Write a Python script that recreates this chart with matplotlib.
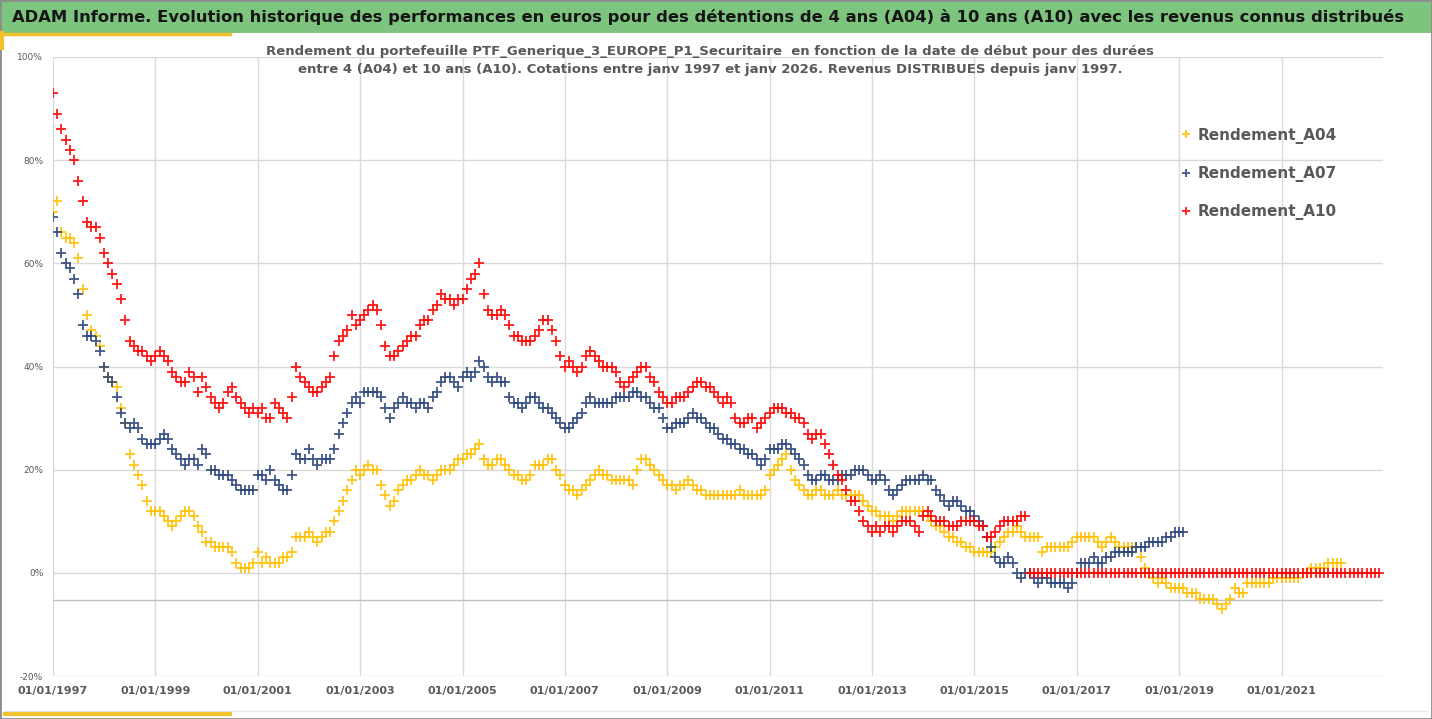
import matplotlib
matplotlib.use("Agg")
import matplotlib.pyplot as plt
import matplotlib.dates as mdates
from matplotlib.patches import Rectangle
from matplotlib.lines import Line2D
import pandas as pd

# --- Données (rendement en %, un point par mois) ---
a04 = [
    70, 72, 66, 65, 65, 64, 61, 55, 50, 47, 46, 44,   # 1997
    40, 38, 37, 36, 32, 29, 23, 21, 19, 17, 14, 12,   # 1998
    12, 12, 11, 10, 9, 10, 11, 12, 12, 11, 9, 8,      # 1999
    6, 6, 5, 5, 5, 5, 4, 2, 1, 1, 1, 2,               # 2000
    4, 2, 3, 2, 2, 2, 3, 3, 4, 7, 7, 7,               # 2001
    8, 7, 6, 7, 8, 8, 10, 12, 14, 16, 18, 20,         # 2002
    19, 20, 21, 20, 20, 17, 15, 13, 14, 16, 17, 18,   # 2003
    18, 19, 20, 19, 19, 18, 19, 20, 20, 20, 21, 22,   # 2004
    22, 23, 23, 24, 25, 22, 21, 21, 22, 22, 21, 20,   # 2005
    19, 19, 18, 18, 19, 21, 21, 21, 22, 22, 20, 19,   # 2006
    17, 16, 16, 15, 16, 17, 18, 19, 20, 19, 19, 18,   # 2007
    18, 18, 18, 18, 17, 20, 22, 22, 21, 20, 19, 18,   # 2008
    17, 17, 16, 17, 17, 18, 17, 16, 16, 15, 15, 15,   # 2009
    15, 15, 15, 15, 15, 16, 15, 15, 15, 15, 15, 16,   # 2010
    19, 20, 21, 22, 23, 20, 18, 17, 16, 15, 15, 16,   # 2011
    16, 15, 15, 15, 16, 15, 15, 15, 15, 15, 14, 13,   # 2012
    12, 12, 11, 11, 11, 10, 11, 12, 12, 12, 12, 12,   # 2013
    12, 11, 10, 9, 9, 8, 7, 7, 6, 6, 5, 5,            # 2014
    4, 4, 4, 4, 4, 5, 6, 7, 8, 8, 9, 8,               # 2015
    7, 7, 7, 7, 4, 5, 5, 5, 5, 5, 5, 6,               # 2016
    7, 7, 7, 7, 7, 6, 5, 6, 7, 6, 5, 5,               # 2017
    5, 5, 5, 3, 1, 0, -1, -2, -1, -2, -3, -3,         # 2018
    -3, -3, -4, -4, -4, -5, -5, -5, -5, -6, -7, -6,   # 2019
    -5, -3, -4, -4, -2, -2, -2, -2, -2, -2, -1, -1,   # 2020
    -1, -1, -1, -1, -1, 0, 0, 1, 1, 1, 1, 2,          # 2021
    2, 2, 2,                                          # 2022
]

a07 = [
    69, 66, 62, 60, 59, 57, 54, 48, 46, 46, 45, 43,   # 1997
    40, 38, 37, 34, 31, 29, 28, 29, 28, 26, 25, 25,   # 1998
    25, 26, 27, 26, 24, 23, 22, 21, 22, 22, 21, 24,   # 1999
    23, 20, 20, 19, 19, 19, 18, 17, 16, 16, 16, 16,   # 2000
    19, 19, 18, 20, 18, 17, 16, 16, 19, 23, 22, 22,   # 2001
    24, 22, 21, 22, 22, 22, 24, 27, 29, 31, 33, 34,   # 2002
    33, 35, 35, 35, 35, 34, 32, 30, 32, 33, 34, 33,   # 2003
    33, 32, 33, 33, 32, 34, 35, 37, 38, 38, 37, 36,   # 2004
    38, 39, 38, 39, 41, 40, 38, 37, 38, 37, 37, 34,   # 2005
    33, 33, 32, 33, 34, 34, 33, 32, 32, 31, 30, 29,   # 2006
    28, 28, 29, 30, 31, 33, 34, 33, 33, 33, 33, 33,   # 2007
    34, 34, 34, 34, 35, 35, 34, 34, 33, 32, 32, 30,   # 2008
    28, 28, 29, 29, 29, 30, 31, 30, 30, 29, 28, 28,   # 2009
    27, 26, 26, 25, 25, 24, 24, 23, 23, 22, 21, 22,   # 2010
    24, 24, 24, 25, 25, 24, 23, 22, 21, 19, 18, 18,   # 2011
    19, 19, 18, 18, 18, 19, 19, 19, 20, 20, 20, 19,   # 2012
    18, 18, 19, 18, 16, 15, 16, 17, 18, 18, 18, 18,   # 2013
    19, 18, 18, 16, 15, 14, 13, 14, 14, 13, 12, 12,   # 2014
    11, 10, 9, 7, 5, 3, 2, 2, 3, 2, 0, -1,            # 2015
    0, 0, -1, -2, -1, -1, -2, -2, -2, -2, -3, -2,     # 2016
    0, 2, 2, 2, 3, 2, 2, 3, 3, 4, 4, 4,               # 2017
    4, 4, 5, 5, 5, 6, 6, 6, 6, 7, 7, 8,               # 2018
    8, 8,                                             # 2019
]

a10 = [
    93, 89, 86, 84, 82, 80, 76, 72, 68, 67, 67, 65,   # 1997
    62, 60, 58, 56, 53, 49, 45, 44, 43, 43, 42, 41,   # 1998
    42, 43, 42, 41, 39, 38, 37, 37, 39, 38, 35, 38,   # 1999
    36, 34, 33, 32, 33, 35, 36, 34, 33, 32, 31, 32,   # 2000
    31, 32, 30, 30, 33, 32, 31, 30, 34, 40, 38, 37,   # 2001
    36, 35, 35, 36, 37, 38, 42, 45, 46, 47, 50, 48,   # 2002
    49, 50, 51, 52, 51, 48, 44, 42, 42, 43, 44, 45,   # 2003
    46, 46, 48, 49, 49, 51, 52, 54, 53, 53, 52, 53,   # 2004
    53, 55, 57, 58, 60, 54, 51, 50, 50, 51, 50, 48,   # 2005
    46, 46, 45, 45, 45, 46, 47, 49, 49, 47, 45, 42,   # 2006
    40, 41, 40, 39, 40, 42, 43, 42, 41, 40, 40, 40,   # 2007
    39, 37, 36, 37, 38, 39, 40, 40, 38, 37, 35, 34,   # 2008
    33, 33, 34, 34, 34, 35, 36, 37, 37, 36, 36, 35,   # 2009
    34, 33, 34, 33, 30, 29, 29, 30, 30, 28, 29, 30,   # 2010
    31, 32, 32, 32, 31, 31, 30, 30, 29, 27, 26, 27,   # 2011
    27, 25, 23, 21, 19, 18, 16, 14, 14, 12, 10, 9,    # 2012
    8, 9, 8, 9, 9, 8, 9, 10, 10, 10, 9, 8,            # 2013
    11, 12, 11, 10, 10, 10, 9, 9, 9, 10, 10, 10,      # 2014
    10, 9, 9, 7, 7, 8, 9, 10, 10, 10, 10, 11,         # 2015
    11,                                               # 2016-01
    # fin de l'historique 10 ans : valeurs à 0 jusqu'à fin 2022
    0, 0, 0, 0, 0, 0, 0, 0, 0, 0, 0,                  # 2016
    0, 0, 0, 0, 0, 0, 0, 0, 0, 0, 0, 0,               # 2017
    0, 0, 0, 0, 0, 0, 0, 0, 0, 0, 0, 0,               # 2018
    0, 0, 0, 0, 0, 0, 0, 0, 0, 0, 0, 0,               # 2019
    0, 0, 0, 0, 0, 0, 0, 0, 0, 0, 0, 0,               # 2020
    0, 0, 0, 0, 0, 0, 0, 0, 0, 0, 0, 0,               # 2021
    0, 0, 0, 0, 0, 0, 0, 0, 0, 0, 0, 0,               # 2022
]

series = [
    ("Rendement_A04", a04, "#FFC000"),
    ("Rendement_A07", a07, "#2B4679"),
    ("Rendement_A10", a10, "#FF0000"),
]

titre = ("ADAM Informe. Evolution historique des performances en euros pour des "
         "détentions de 4 ans (A04) à 10 ans (A10) avec les revenus connus distribués")
sous_titre = ("Rendement du portefeuille PTF_Generique_3_EUROPE_P1_Securitaire  en fonction "
              "de la date de début pour des durées\nentre 4 (A04) et 10 ans (A10). Cotations "
              "entre janv 1997 et janv 2026. Revenus DISTRIBUES depuis janv 1997.")

W, H = 1432, 719

# --- Figure ---
fig = plt.figure(figsize=(W / 100, H / 100), dpi=100)
ax = fig.add_axes([53 / W, 1 - 676 / H, 1330 / W, 619 / H])

for nom, vals, col in series:
    dates = pd.date_range("1997-01-01", periods=len(vals), freq="MS")
    ax.plot(dates, vals, linestyle="none", marker="+", ms=7.5, mew=1.3,
            color=col, alpha=0.9, label=nom)

ax.set_ylim(-20, 100)
ax.set_yticks(range(-20, 101, 20))
ax.set_yticklabels([f"{v}%" for v in range(-20, 101, 20)])
ax.set_xlim(pd.Timestamp("1997-01-01"), pd.Timestamp("2022-12-26"))
ax.set_xticks(pd.date_range("1997-01-01", "2021-01-01", freq="2YS"))
ax.xaxis.set_major_formatter(mdates.DateFormatter("%d/%m/%Y"))

ax.grid(True, color="#d9d9d9", lw=1)
ax.set_axisbelow(True)
for s in ax.spines.values():
    s.set_visible(False)
ax.axhline(-5.2, color="#bfbfbf", lw=1, zorder=1)
ax.tick_params(axis="y", length=0, pad=7, labelsize=6.5, labelcolor="#595959")
ax.tick_params(axis="x", length=0, pad=7, labelsize=8, labelcolor="#595959")
for lab in ax.get_xticklabels():
    lab.set_fontweight("bold")

leg = fig.legend(loc="center left", bbox_to_anchor=(1172 / W, 1 - 174 / H),
                 frameon=False, fontsize=11, handlelength=0.8, handletextpad=0.4,
                 labelspacing=1.45, borderpad=0, markerscale=0.75)
for t in leg.get_texts():
    t.set_color("#595959")
    t.set_fontweight("bold")

# bandeau titre
fig.add_artist(Rectangle((0, 1 - 33 / H), 1, 33 / H, transform=fig.transFigure,
                         facecolor="#7DC47E", edgecolor="none"))
fig.text(12 / W, 1 - 17 / H, titre, ha="left", va="center", fontsize=11.8,
         fontweight="bold", color="#151515")
fig.text(710 / W, 1 - 60 / H, sous_titre, ha="center", va="center", fontsize=9.5,
         fontweight="bold", color="#595959", linespacing=1.5)

# décor : traits jaunes et cadre
fig.add_artist(Line2D([0, 230 / W], [1 - 34 / H, 1 - 34 / H], color="#F2C12E", lw=2.5))
fig.add_artist(Line2D([2 / W, 2 / W], [1 - 33 / H, 1 - 48 / H], color="#F2C12E", lw=3))
fig.add_artist(Line2D([5 / W, 1 - 5 / W], [1 - 711 / H, 1 - 711 / H], color="#e6e6e6", lw=1))
fig.add_artist(Line2D([5 / W, 230 / W], [1 - 714 / H, 1 - 714 / H], color="#F2C12E", lw=3))
fig.add_artist(Rectangle((0, 0), 1, 1, transform=fig.transFigure, fill=False,
                         edgecolor="#8c8c8c", lw=2))

fig.savefig("out.png", dpi=100)
